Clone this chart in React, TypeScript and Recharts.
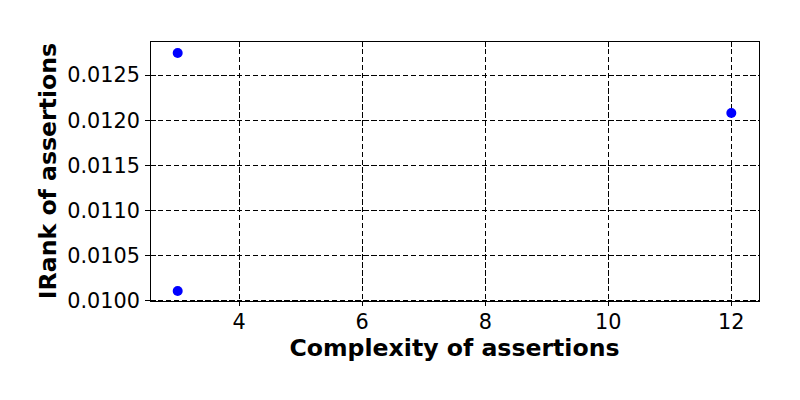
import React from 'react';
import { ScatterChart, Scatter, XAxis, YAxis, CartesianGrid } from 'recharts';

const complexity = [3, 3, 12];
const irank = [0.012744, 0.010105, 0.012079];
const xTicks = [4, 6, 8, 10, 12];
const yTicks = [0.01, 0.0105, 0.011, 0.0115, 0.012, 0.0125];
const yDomain: [number, number] = [0.009995, 0.012877];

const points = complexity.map((c, i) => ({ x: c, y: irank[i] }));

// matplotlib-style 5% padding around the data
const pad = (vals: number[]): [number, number] => {
  const lo = Math.min(...vals);
  const hi = Math.max(...vals);
  const m = (hi - lo) * 0.05;
  return [lo - m, hi + m];
};
const xDomain = pad(complexity);

const W = 800;
const H = 400;
const margin = { top: 41, right: 41, bottom: 0, left: 0 };
const yAxisW = 150;
const xAxisH = 99;

const tickFont = { fontFamily: 'DejaVu Sans', fontSize: 20.8, fill: '#000' };
const labelFont = { fontFamily: 'DejaVu Sans', fontSize: 23.6, fontWeight: 'bold', fill: '#000' };

const Dot = (props: any) => <circle cx={props.cx} cy={props.cy} r={5} fill="#0000ff" />;

const App: React.FC = () => {
  return (
    <div style={{ position: 'absolute', left: 0, top: 0, width: W, height: H, background: '#fff' }}>
      <style>{`
        .recharts-cartesian-grid line, .recharts-cartesian-axis-tick-line {
          shape-rendering: crispEdges;
        }
      `}</style>
      <ScatterChart width={W} height={H} margin={margin}>
        <CartesianGrid stroke="#000" strokeDasharray="5.5 2.4" fill="none" />
        <XAxis
          dataKey="x"
          type="number"
          domain={xDomain}
          ticks={xTicks}
          allowDataOverflow
          height={xAxisH}
          tick={tickFont}
          tickSize={5}
          tickMargin={8}
          axisLine={false}
          tickLine={{ stroke: '#000' }}
          label={{ value: 'Complexity of assertions', position: 'insideTop', offset: 38, style: labelFont }}
        />
        <YAxis
          dataKey="y"
          type="number"
          domain={yDomain}
          ticks={yTicks}
          allowDataOverflow
          width={yAxisW}
          tick={tickFont}
          tickSize={5}
          tickMargin={5}
          tickFormatter={(v: number) => v.toFixed(4)}
          axisLine={false}
          tickLine={{ stroke: '#000' }}
          label={{
            value: 'IRank of assertions',
            angle: -90,
            position: 'insideLeft',
            offset: 48,
            style: { ...labelFont, textAnchor: 'middle' },
          }}
        />
        <Scatter data={points} shape={Dot} isAnimationActive={false} />
      </ScatterChart>
      {/* plot frame (spines) */}
      <div
        style={{
          position: 'absolute',
          left: margin.left + yAxisW,
          top: margin.top,
          width: W - margin.left - yAxisW - margin.right + 1,
          height: H - margin.top - margin.bottom - xAxisH + 1,
          border: '1px solid #000',
          boxSizing: 'border-box',
          pointerEvents: 'none',
        }}
      />
    </div>
  );
};

export default App;
